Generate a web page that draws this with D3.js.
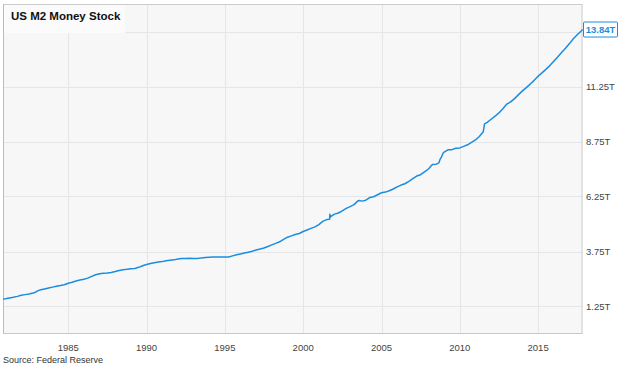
<!DOCTYPE html>
<html><head><meta charset="utf-8">
<script src="https://cdn.jsdelivr.net/npm/d3@7"></script>
<style>body{margin:0;background:#fff;font-family:"Liberation Sans",Arial,sans-serif}</style>
</head><body>
<svg id="c" width="620" height="369"></svg>
<script>
const title = "US M2 Money Stock";
const source = "Source: Federal Reserve";
const yTicks = [1.25, 3.75, 6.25, 8.75, 11.25, 13.75];
const xTickYears = [1985, 1990, 1995, 2000, 2005, 2010, 2015];
const dates = [
"1980-11-01","1981-01-01","1981-04-01","1981-07-01","1981-10-01",
"1982-01-01","1982-04-01","1982-07-01","1982-10-01","1982-12-01",
"1983-01-15","1983-04-01","1983-07-01","1983-10-01",
"1984-01-01","1984-04-01","1984-07-01","1984-10-01",
"1985-01-01","1985-04-01","1985-07-01","1985-10-01",
"1986-01-01","1986-04-01","1986-07-01","1986-10-01",
"1987-01-01","1987-04-01","1987-07-01","1987-10-01",
"1988-01-01","1988-04-01","1988-07-01","1988-10-01",
"1989-01-01","1989-04-01","1989-07-01","1989-10-01",
"1990-01-01","1990-04-01","1990-07-01","1990-10-01",
"1991-01-01","1991-04-01","1991-07-01","1991-10-01",
"1992-01-01","1992-04-01","1992-07-01","1992-10-01",
"1993-01-01","1993-04-01","1993-07-01","1993-10-01",
"1994-01-01","1994-04-01","1994-07-01","1994-10-01",
"1995-01-01","1995-04-01","1995-07-01","1995-10-01",
"1996-01-01","1996-04-01","1996-07-01","1996-10-01",
"1997-01-01","1997-04-01","1997-07-01","1997-10-01",
"1998-01-01","1998-04-01","1998-07-01","1998-10-01",
"1999-01-01","1999-04-01","1999-07-01","1999-10-01",
"2000-01-01","2000-04-01","2000-07-01","2000-10-01",
"2001-01-01","2001-04-01","2001-07-01","2001-09-08","2001-09-15","2001-09-22","2001-10-01",
"2002-01-01","2002-04-01","2002-07-01","2002-10-01",
"2003-01-01","2003-04-01","2003-07-01","2003-08-01","2003-10-01",
"2004-01-01","2004-04-01","2004-07-01","2004-10-01",
"2005-01-01","2005-04-01","2005-07-01","2005-10-01",
"2006-01-01","2006-04-01","2006-07-01","2006-10-01",
"2007-01-01","2007-04-01","2007-07-01","2007-10-01",
"2008-01-01","2008-03-01","2008-04-01","2008-07-01","2008-09-01","2008-10-01","2008-11-01","2008-12-01",
"2009-01-01","2009-04-01","2009-07-01","2009-10-01",
"2010-01-01","2010-04-01","2010-07-01","2010-10-01",
"2011-01-01","2011-04-01","2011-07-01","2011-08-01","2011-10-01",
"2012-01-01","2012-04-01","2012-07-01","2012-10-01",
"2013-01-01","2013-04-01","2013-07-01","2013-10-01",
"2014-01-01","2014-04-01","2014-07-01","2014-10-01",
"2015-01-01","2015-04-01","2015-07-01","2015-10-01",
"2016-01-01","2016-04-01","2016-07-01","2016-10-01",
"2017-01-01","2017-04-01","2017-07-01","2017-10-01","2017-11-01"];
const m2 = [
1.59,1.60,1.64,1.67,1.71,
1.76,1.79,1.82,1.86,1.90,
1.96,2.01,2.05,2.09,
2.13,2.17,2.20,2.24,
2.31,2.35,2.41,2.45,
2.49,2.54,2.62,2.69,
2.74,2.76,2.77,2.80,
2.84,2.89,2.92,2.94,
2.97,2.98,3.03,3.10,
3.16,3.20,3.24,3.27,
3.29,3.33,3.35,3.37,
3.41,3.43,3.43,3.44,
3.43,3.43,3.46,3.48,
3.49,3.50,3.50,3.50,
3.50,3.50,3.55,3.60,
3.64,3.68,3.72,3.76,
3.82,3.86,3.91,3.98,
4.05,4.12,4.19,4.30,
4.40,4.46,4.52,4.57,
4.66,4.73,4.80,4.87,
4.97,5.12,5.20,5.22,5.44,5.30,5.33,
5.45,5.50,5.60,5.71,
5.79,5.88,6.05,6.07,6.04,
6.08,6.20,6.24,6.33,
6.42,6.45,6.51,6.59,
6.69,6.77,6.83,6.94,
7.06,7.18,7.24,7.37,
7.50,7.64,7.70,7.72,7.78,7.95,8.05,8.20,
8.27,8.37,8.38,8.44,
8.46,8.53,8.60,8.71,
8.82,8.98,9.19,9.55,9.62,
9.76,9.90,10.05,10.24,
10.45,10.55,10.70,10.88,
11.05,11.20,11.36,11.53,
11.72,11.87,12.03,12.20,
12.40,12.59,12.79,12.99,
13.20,13.42,13.60,13.77,13.84];

const parse = d3.timeParse("%Y-%m-%d");
const data = dates.map((d,i)=>({date:parse(d), v:m2[i]}));
const svg = d3.select("#c");
const L=3, R=582.5, T=4, B=334;
const x = d3.scaleTime().domain([parse("1980-11-01"), parse("2017-11-01")]).range([L,R]);
const y = d3.scaleLinear().domain([0,15]).range([B,T]);

svg.append("rect").attr("x",L).attr("y",T).attr("width",R-L).attr("height",B-T).attr("fill","#f7f7f7");
const g = svg.append("g");
g.selectAll(".hg").data(yTicks).join("line")
 .attr("x1",L).attr("x2",R).attr("y1",d=>Math.round(y(d))+0.5).attr("y2",d=>Math.round(y(d))+0.5)
 .attr("stroke","#e6e6e6").attr("stroke-width",1);
const xt = xTickYears.map(yr=>new Date(yr,0,1));
g.selectAll(".vg").data(xt).join("line")
 .attr("x1",d=>Math.round(x(d))+0.5).attr("x2",d=>Math.round(x(d))+0.5).attr("y1",T).attr("y2",B)
 .attr("stroke","#e6e6e6").attr("stroke-width",1);

// border
svg.append("rect").attr("x",L+0.5).attr("y",T+0.5).attr("width",R-L-1).attr("height",B-T-1)
 .attr("fill","none").attr("stroke","#cccccc");
svg.append("line").attr("x1",L+0.5).attr("x2",L+0.5).attr("y1",T).attr("y2",B).attr("stroke","#bbbbbb");
svg.append("line").attr("x1",L).attr("x2",R).attr("y1",B-0.5).attr("y2",B-0.5).attr("stroke","#c8c8c8");

// title box
svg.append("rect").attr("x",L+1).attr("y",T+1).attr("width",121).attr("height",28).attr("fill","#fbfbfb");
svg.append("text").attr("x",11).attr("y",20).attr("font-size","11.5px").attr("font-weight","bold")
 .attr("fill","#111").text(title);

// line
svg.append("path").datum(data).attr("fill","none").attr("stroke","#1a8de0").attr("stroke-width",1.5)
 .attr("stroke-linejoin","round")
 .attr("d", d3.line().x(d=>x(d.date)).y(d=>y(d.v)));

// y labels (skip the one hidden by last value)
const fmt = v=>v.toFixed(2)+"T";
svg.selectAll(".yl").data(yTicks.filter(v=>v<13)).join("text")
 .attr("x",586).attr("y",d=>y(d)+3.5).attr("font-size","9.5px").attr("fill","#444").text(fmt);
// x labels
svg.selectAll(".xl").data(xt).join("text")
 .attr("x",d=>x(d)).attr("y",351).attr("text-anchor","middle").attr("font-size","9.5px").attr("fill","#444")
 .text(d=>d3.timeFormat("%Y")(d));
// source
svg.append("text").attr("x",3).attr("y",363).attr("font-size","9px").attr("fill","#333").text(source);

// last value label
const last = data[data.length-1];
const ly = y(last.v);
svg.append("rect").attr("x",583.5).attr("y",ly-7.5).attr("width",34).attr("height",15)
 .attr("fill","#fff").attr("stroke","#1a8de0").attr("stroke-width",1).attr("rx",1);
svg.append("text").attr("x",600.5).attr("y",ly+3.5).attr("text-anchor","middle").attr("font-size","9.5px")
 .attr("font-weight","bold").attr("fill","#1a8de0").text(fmt(last.v));
</script>
</body></html>
